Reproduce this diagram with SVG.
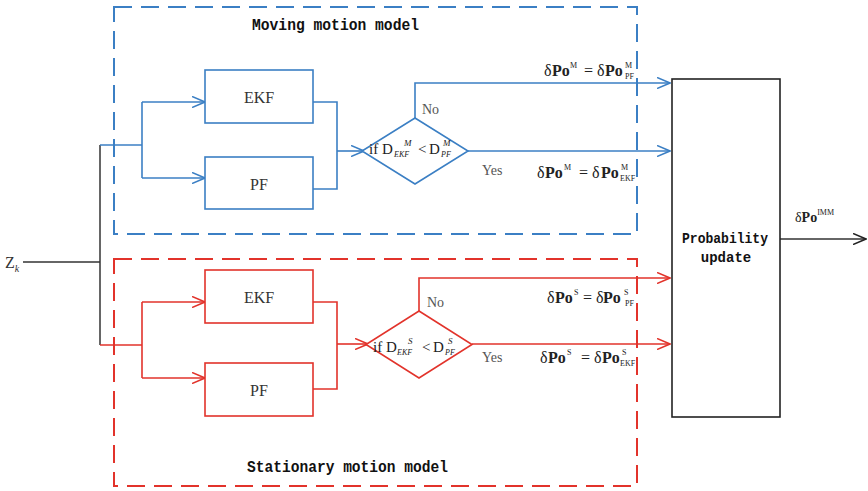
<svg xmlns="http://www.w3.org/2000/svg" width="868" height="491" viewBox="0 0 868 491">
<style>
.bl{stroke:#3b7fc4;fill:none;stroke-width:1.6}
.rd{stroke:#e2332b;fill:none;stroke-width:1.6}
.bk{stroke:#333;fill:none;stroke-width:1.5}
.dash{stroke-width:2;stroke-dasharray:18 9}
.box{fill:#fff}
.lab{font-family:"Liberation Serif",serif;font-size:16px;fill:#333}
.mono{font-family:"Liberation Mono",monospace;font-weight:bold;fill:#111}
.eq{font-family:"Liberation Serif",serif;fill:#222}
.b{font-weight:bold}
.sm{font-size:8px}
.it{font-style:italic}
.ny{font-family:"Liberation Serif",serif;font-size:14px;fill:#555}
</style>
<defs>
<marker id="ab" viewBox="0 0 14 12" refX="13" refY="6" markerWidth="14" markerHeight="12" markerUnits="userSpaceOnUse" orient="auto"><path d="M0,0.5 L13,6 L0,11.5" fill="none" stroke="#3b7fc4" stroke-width="1.6"/></marker>
<marker id="ar" viewBox="0 0 14 12" refX="13" refY="6" markerWidth="14" markerHeight="12" markerUnits="userSpaceOnUse" orient="auto"><path d="M0,0.5 L13,6 L0,11.5" fill="none" stroke="#e2332b" stroke-width="1.6"/></marker>
<marker id="ak" viewBox="0 0 14 12" refX="13" refY="6" markerWidth="14" markerHeight="12" markerUnits="userSpaceOnUse" orient="auto"><path d="M0,0.5 L13,6 L0,11.5" fill="none" stroke="#222" stroke-width="1.6"/></marker>
</defs>

<g id="moving-group">
<rect x="114" y="7" width="523" height="227" class="bl dash"/>
<text x="252" y="30" class="mono" font-size="16" textLength="167" lengthAdjust="spacingAndGlyphs">Moving motion model</text>
</g>
<g id="stationary-group">
<rect x="114" y="259" width="523" height="227" class="rd dash"/>
<text x="247" y="472" class="mono" font-size="16" textLength="201" lengthAdjust="spacingAndGlyphs">Stationary motion model</text>
</g>

<g id="connectors">
<path d="M23,262 H100" class="bk"/>
<path d="M100,145 V345" class="bk"/>
<path d="M100,145 H142" class="bl"/>
<path d="M142,102 V178" class="bl"/>
<path d="M142,102 H205" class="bl" marker-end="url(#ab)"/>
<path d="M142,178 H205" class="bl" marker-end="url(#ab)"/>
<path d="M313,102 H337 V189 H313" class="bl"/>
<path d="M337,151 H364" class="bl" marker-end="url(#ab)"/>
<path d="M415,118 V83 H670" class="bl" marker-end="url(#ab)"/>
<path d="M468,151 H670" class="bl" marker-end="url(#ab)"/>
<path d="M100,345 H142" class="rd"/>
<path d="M142,302 V378" class="rd"/>
<path d="M142,302 H205" class="rd" marker-end="url(#ar)"/>
<path d="M142,378 H205" class="rd" marker-end="url(#ar)"/>
<path d="M313,302 H337 V389 H313" class="rd"/>
<path d="M337,344 H368" class="rd" marker-end="url(#ar)"/>
<path d="M419,311 V278 H670" class="rd" marker-end="url(#ar)"/>
<path d="M472,344 H670" class="rd" marker-end="url(#ar)"/>
<path d="M780,239 H866" class="bk" marker-end="url(#ak)"/>
</g>

<g id="zk">
<text x="5" y="268" class="lab">Z<tspan class="it" font-size="10" dy="4">k</tspan></text>
</g>

<g id="ekf-moving">
<rect x="205" y="70" width="108" height="53" class="bl box"/>
<text x="259" y="103" class="lab" text-anchor="middle">EKF</text>
</g>
<g id="pf-moving">
<rect x="205" y="157" width="108" height="52" class="bl box"/>
<text x="259" y="190" class="lab" text-anchor="middle">PF</text>
</g>
<g id="decision-moving">
<path d="M415,118 L468,151 L415,184 L362,151 Z" class="bl box"/>
<text class="eq" font-size="15" y="154"><tspan x="369">if D</tspan><tspan x="394" y="157" class="it" font-size="8">EKF</tspan><tspan x="404" y="146" class="it" font-size="9">M</tspan><tspan x="418" y="154">&lt;</tspan><tspan x="429">D</tspan><tspan x="441" y="157" class="it" font-size="8">PF</tspan><tspan x="443" y="146" class="it" font-size="9">M</tspan></text>
</g>
<text x="422" y="114" class="ny">No</text>
<text x="482" y="175" class="ny">Yes</text>
<text class="eq" font-size="16" y="76"><tspan x="544">δ</tspan><tspan x="552" class="b">Po</tspan><tspan x="570" y="68" class="sm">M</tspan><tspan x="584" y="76">= δ</tspan><tspan x="605" class="b">Po</tspan><tspan x="625" y="68" class="sm">M</tspan><tspan x="625" y="79" class="sm">PF</tspan></text>
<text class="eq" font-size="16" y="178"><tspan x="537">δ</tspan><tspan x="545" class="b">Po</tspan><tspan x="564" y="170" class="sm">M</tspan><tspan x="579" y="178">= δ</tspan><tspan x="601" class="b">Po</tspan><tspan x="621" y="170" class="sm">M</tspan><tspan x="620" y="181" class="sm">EKF</tspan></text>

<g id="ekf-stationary">
<rect x="205" y="270" width="108" height="53" class="rd box"/>
<text x="259" y="303" class="lab" text-anchor="middle">EKF</text>
</g>
<g id="pf-stationary">
<rect x="205" y="363" width="108" height="53" class="rd box"/>
<text x="259" y="396" class="lab" text-anchor="middle">PF</text>
</g>
<g id="decision-stationary">
<path d="M419,311 L472,344.5 L419,378 L366,344.5 Z" class="rd box"/>
<text class="eq" font-size="15" y="352"><tspan x="373">if D</tspan><tspan x="397" y="355" class="it" font-size="8">EKF</tspan><tspan x="408" y="344" class="it" font-size="9">S</tspan><tspan x="422" y="352">&lt;</tspan><tspan x="433">D</tspan><tspan x="445" y="355" class="it" font-size="8">PF</tspan><tspan x="448" y="344" class="it" font-size="9">S</tspan></text>
</g>
<text x="427" y="307" class="ny">No</text>
<text x="482" y="362" class="ny">Yes</text>
<text class="eq" font-size="16" y="303"><tspan x="547">δ</tspan><tspan x="555" class="b">Po</tspan><tspan x="574" y="295" class="sm">S</tspan><tspan x="583" y="303">= δ</tspan><tspan x="603" class="b">Po</tspan><tspan x="624" y="295" class="sm">S</tspan><tspan x="625" y="306" class="sm">PF</tspan></text>
<text class="eq" font-size="16" y="363"><tspan x="540">δ</tspan><tspan x="548" class="b">Po</tspan><tspan x="567" y="355" class="sm">S</tspan><tspan x="581" y="363">= δ</tspan><tspan x="602" class="b">Po</tspan><tspan x="622" y="355" class="sm">S</tspan><tspan x="620" y="366" class="sm">EKF</tspan></text>

<g id="probability-update">
<rect x="672" y="79" width="108" height="338" fill="#fff" stroke="#222" stroke-width="1.6"/>
<text x="682" y="243" class="mono" font-size="14" textLength="86" lengthAdjust="spacingAndGlyphs">Probability</text>
<text x="726" y="262" class="mono" font-size="14" text-anchor="middle">update</text>
</g>
<text class="eq" font-size="14" y="222"><tspan x="795">δ</tspan><tspan class="b">Po</tspan><tspan y="215" font-size="8">IMM</tspan></text>
</svg>
